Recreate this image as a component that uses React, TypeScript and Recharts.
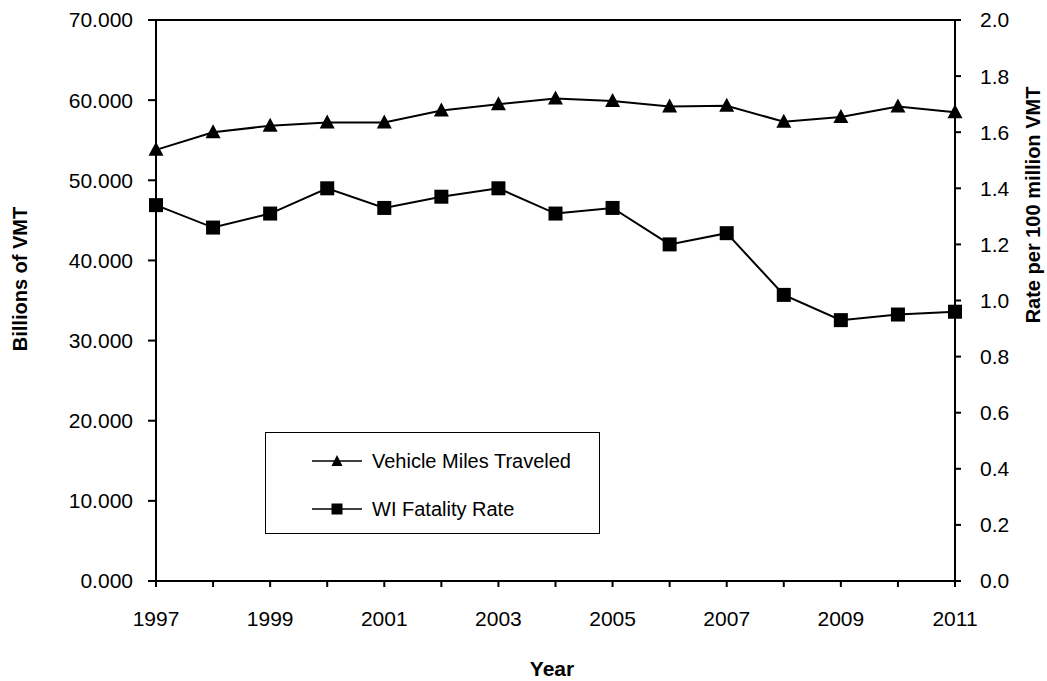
import { LineChart, Line, XAxis, YAxis, ReferenceLine } from "recharts";

const years = [1997, 1998, 1999, 2000, 2001, 2002, 2003, 2004, 2005, 2006, 2007, 2008, 2009, 2010, 2011];
// billions of vehicle miles traveled (left axis)
const vmtBillions = [53.8, 56.0, 56.8, 57.2, 57.2, 58.7, 59.5, 60.2, 59.9, 59.2, 59.3, 57.3, 57.9, 59.2, 58.5];
// fatalities per 100 million VMT (right axis)
const fatalityRate = [1.34, 1.26, 1.31, 1.4, 1.33, 1.37, 1.4, 1.31, 1.33, 1.2, 1.24, 1.02, 0.93, 0.95, 0.96];
const leftTicks = [0, 10, 20, 30, 40, 50, 60, 70];
const rightTicks = [0, 0.2, 0.4, 0.6, 0.8, 1.0, 1.2, 1.4, 1.6, 1.8, 2.0];

const data = years.map((year, i) => ({ year, vmt: vmtBillions[i], rate: fatalityRate[i] }));

const FONT = '"Liberation Sans", Arial, sans-serif';
const tickStyle = { fill: "#000", fontSize: 21, fontFamily: FONT };

function TriangleDot(props: any) {
  const { cx, cy } = props;
  if (cx == null || cy == null) return null;
  return <polygon points={`${cx},${cy - 8} ${cx - 7.5},${cy + 6} ${cx + 7.5},${cy + 6}`} fill="#000" />;
}

function SquareDot(props: any) {
  const { cx, cy } = props;
  if (cx == null || cy == null) return null;
  return <rect x={cx - 7} y={cy - 7} width={14} height={14} fill="#000" />;
}

export default function App() {
  return (
    <div style={{ position: "absolute", left: 0, top: 0, width: 1047, height: 681, background: "#fff", fontFamily: FONT }}>
      <LineChart width={1047} height={681} data={data} margin={{ top: 20, right: 32, bottom: 70, left: 96 }}>
        <XAxis
          dataKey="year"
          type="number"
          domain={[1997, 2011]}
          ticks={years}
          interval={0}
          tickFormatter={(v) => (v % 2 === 1 ? String(v) : "")}
          tick={tickStyle}
          tickSize={6}
          tickMargin={24}
          height={30}
          stroke="#000"
          strokeWidth={2}
        />
        <YAxis
          yAxisId="left"
          domain={[0, 70]}
          ticks={leftTicks}
          interval={0}
          tickFormatter={(v) => v.toFixed(3)}
          tick={tickStyle}
          tickSize={8}
          tickMargin={15}
          width={60}
          stroke="#000"
          strokeWidth={2}
        />
        <YAxis
          yAxisId="right"
          orientation="right"
          domain={[0, 2]}
          ticks={rightTicks}
          interval={0}
          tickFormatter={(v) => v.toFixed(1)}
          tick={tickStyle}
          tickSize={6}
          tickMargin={19}
          width={60}
          stroke="#000"
          strokeWidth={2}
        />
        <ReferenceLine yAxisId="left" y={70} stroke="#000" strokeWidth={2} />
        <Line
          yAxisId="left"
          dataKey="vmt"
          name="Vehicle Miles Traveled"
          stroke="#000"
          strokeWidth={2}
          dot={<TriangleDot />}
          activeDot={false}
          isAnimationActive={false}
        />
        <Line
          yAxisId="right"
          dataKey="rate"
          name="WI Fatality Rate"
          stroke="#000"
          strokeWidth={2}
          dot={<SquareDot />}
          activeDot={false}
          isAnimationActive={false}
        />
      </LineChart>

      <div style={{ position: "absolute", left: 0, top: 0, width: 0, height: 0 }}>
        <div
          style={{
            position: "absolute", left: 20, top: 279, whiteSpace: "nowrap",
            transform: "translate(-50%, -50%) rotate(-90deg)", fontWeight: "bold", fontSize: 20,
          }}
        >
          Billions of VMT
        </div>
        <div
          style={{
            position: "absolute", left: 1033, top: 205, whiteSpace: "nowrap",
            transform: "translate(-50%, -50%) rotate(-90deg)", fontWeight: "bold", fontSize: 20,
          }}
        >
          Rate per 100 million VMT
        </div>
        <div
          style={{
            position: "absolute", left: 552, top: 669, whiteSpace: "nowrap",
            transform: "translate(-50%, -50%)", fontWeight: "bold", fontSize: 21,
          }}
        >
          Year
        </div>
      </div>

      <div
        style={{
          position: "absolute", left: 265, top: 432, width: 335, height: 102,
          border: "1px solid #000", boxSizing: "border-box", fontSize: 20,
        }}
      >
        {[
          { label: "Vehicle Miles Traveled", top: 28, square: false },
          { label: "WI Fatality Rate", top: 76, square: true },
        ].map((it) => (
          <div key={it.label} style={{ position: "absolute", left: 46, top: it.top - 12, height: 24, display: "flex", alignItems: "center" }}>
            <svg width={50} height={20} style={{ display: "block" }}>
              <line x1={0} y1={10} x2={50} y2={10} stroke="#000" strokeWidth={1.5} />
              {it.square ? (
                <rect x={19.5} y={4.5} width={11} height={11} fill="#000" />
              ) : (
                <polygon points="25,4 19.5,15 30.5,15" fill="#000" />
              )}
            </svg>
            <span style={{ marginLeft: 10, whiteSpace: "nowrap" }}>{it.label}</span>
          </div>
        ))}
      </div>
    </div>
  );
}
